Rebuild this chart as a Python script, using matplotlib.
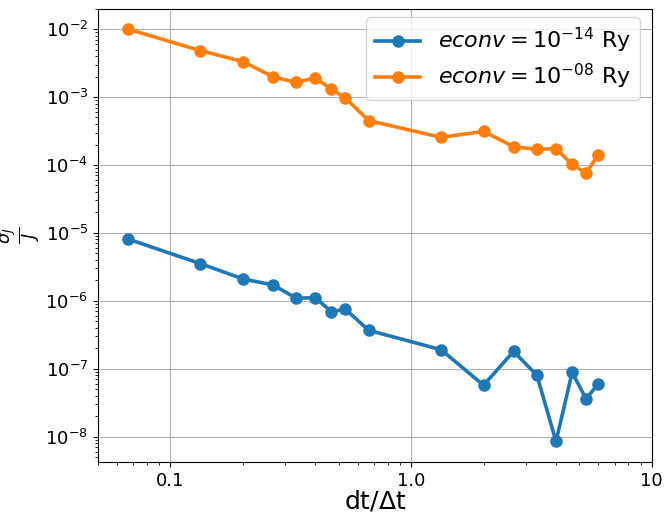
import matplotlib
matplotlib.use("Agg")
import matplotlib.pyplot as plt
from matplotlib.ticker import NullFormatter

dt_ratio = [0.0667, 0.1333, 0.2, 0.2667, 0.3333, 0.4, 0.4667, 0.5333, 0.6667,
            1.3333, 2.0, 2.6667, 3.3333, 4.0, 4.6667, 5.3333, 6.0]
sigma_e14 = [8.1e-6, 3.52e-6, 2.10e-6, 1.71e-6, 1.09e-6, 1.11e-6, 6.9e-7, 7.5e-7, 3.67e-7,
             1.9e-7, 5.7e-8, 1.80e-7, 7.96e-8, 8.5e-9, 8.8e-8, 3.6e-8, 6.0e-8]
sigma_e08 = [1.0e-2, 4.83e-3, 3.33e-3, 1.99e-3, 1.64e-3, 1.92e-3, 1.30e-3, 9.66e-4, 4.5e-4,
             2.55e-4, 3.12e-4, 1.86e-4, 1.70e-4, 1.74e-4, 1.02e-4, 7.6e-5, 1.42e-4]
labels = [r"$econv = 10^{-14}$ Ry", r"$econv = 10^{-08}$ Ry"]
xtick_vals = [0.1, 1.0, 10]
xtick_labels = ["0.1", "1.0", "10"]

fig = plt.figure(figsize=(6.64, 5.17), dpi=100)
ax = fig.add_axes([0.1476, 0.1064, 0.834, 0.8771])

ax.plot(dt_ratio, sigma_e14, "-o", color="#1f77b4", lw=2.6, ms=8, label=labels[0])
ax.plot(dt_ratio, sigma_e08, "-o", color="#ff7f0e", lw=2.6, ms=8, label=labels[1])

ax.set_xscale("log")
ax.set_yscale("log")
ax.set_xlim(0.05, 10)
ax.set_xticks(xtick_vals, xtick_labels)
ax.xaxis.set_minor_formatter(NullFormatter())
ax.yaxis.set_minor_formatter(NullFormatter())
ax.grid(True, which="major", color="#b0b0b0", lw=0.8)
ax.tick_params(axis="both", which="major", labelsize=13)

ax.set_xlabel(r"dt/$\Delta$t", fontsize=18)
ax.xaxis.set_label_coords(0.5, -0.058)
ax.xaxis.label.set_va("top")
ax.set_ylabel(r"$\frac{\sigma_J}{J}$", fontsize=18)
ax.yaxis.set_label_coords(-0.099, 0.5)

ax.legend(loc="upper right", bbox_to_anchor=(0.978, 0.981), borderaxespad=0,
          fontsize=16, handlelength=2.0, labelspacing=0.3)

fig.savefig("out.png", dpi=100)
